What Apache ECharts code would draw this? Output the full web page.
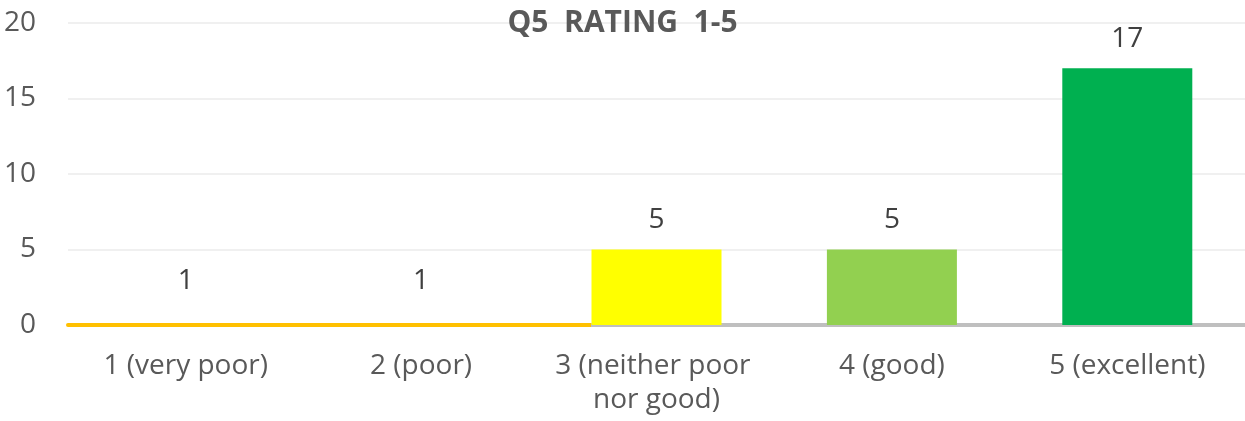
<!DOCTYPE html>
<html>
<head>
<meta charset="utf-8">
<script src="https://cdn.jsdelivr.net/npm/echarts@6/dist/echarts.min.js"></script>
<style>
  html, body { margin: 0; padding: 0; background: #fff; }
  #chart { width: 1245px; height: 421px; }
</style>
</head>
<body>
<div id="chart"></div>
<script>
// Q5 评分分布
const chartInstance = echarts.init(document.getElementById('chart'))

const list = [
  { name: '1 (very poor)', value: 1, color: 'rgba(0,0,0,0)' },
  { name: '2 (poor)', value: 1, color: 'rgba(0,0,0,0)' },
  { name: '3 (neither poor nor good)', value: 5, color: '#FFFF00' },
  { name: '4 (good)', value: 5, color: '#92D050' },
  { name: '5 (excellent)', value: 17, color: '#00B050' }
]

const font = 'Open Sans'

const option = {
  title: {
    text: 'Q5  RATING  1-5',
    left: 'center',
    top: 3,
    textStyle: {
      color: '#595959',
      fontFamily: font,
      fontWeight: 'bold',
      fontSize: 30
    }
  },
  grid: {
    left: 68,
    right: 0,
    top: 23,
    bottom: 96
  },
  xAxis: {
    type: 'category',
    data: list.map((el) => el.name),
    axisTick: { show: false },
    axisLine: {
      lineStyle: {
        width: 4,
        // 前两项的柱子在轴上显示为橙色
        color: new echarts.graphic.LinearGradient(0, 0, 1, 0, [
          { offset: 0, color: '#FFC000' },
          { offset: 0.445, color: '#FFC000' },
          { offset: 0.445, color: '#BFBFBF' },
          { offset: 1, color: '#BFBFBF' }
        ])
      }
    },
    axisLabel: {
      color: '#595959',
      fontFamily: font,
      fontSize: 28,
      lineHeight: 34,
      margin: 24,
      width: 215,
      overflow: 'break',
      interval: 0
    }
  },
  yAxis: {
    type: 'value',
    min: 0,
    max: 20,
    interval: 5,
    axisLine: { show: false },
    axisTick: { show: false },
    splitLine: {
      lineStyle: { color: '#EBEBEB', width: 1.5 }
    },
    axisLabel: {
      color: '#595959',
      fontFamily: font,
      fontSize: 28,
      margin: 32
    }
  },
  series: [
    {
      type: 'bar',
      barWidth: 130,
      data: list.map((el) => ({ value: el.value, itemStyle: { color: el.color } })),
      label: {
        show: true,
        position: 'top',
        distance: 15,
        color: '#404040',
        fontFamily: font,
        fontSize: 28
      }
    }
  ]
}
chartInstance.setOption(option)
</script>
</body>
</html>
